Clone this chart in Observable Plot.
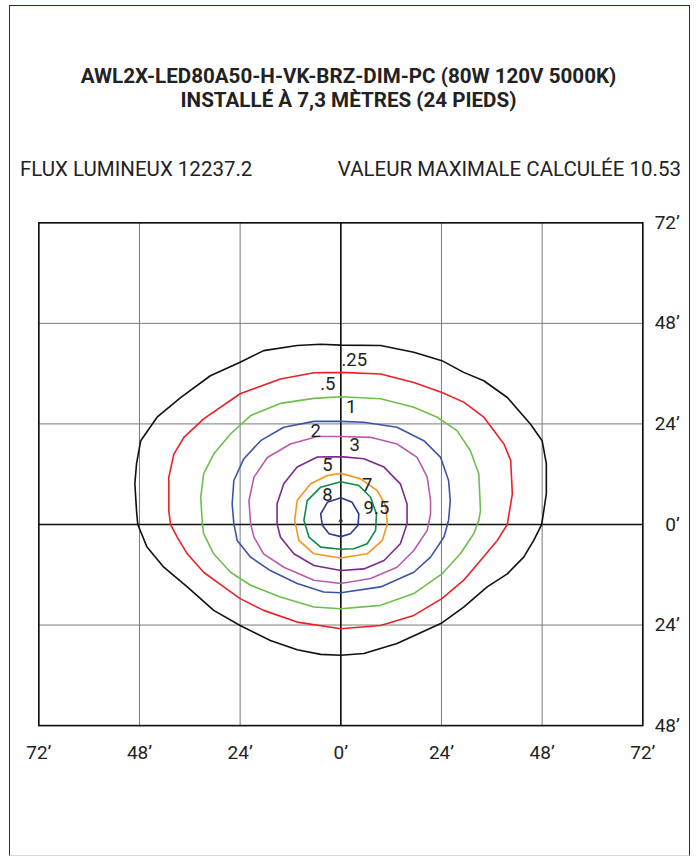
<!DOCTYPE html>
<html><head><meta charset="utf-8">
<script src="https://cdn.jsdelivr.net/npm/d3@7"></script>
<script src="https://cdn.jsdelivr.net/npm/@observablehq/plot@0.6"></script>
<style>
body{margin:0;background:#fff;font-family:Roboto,"Noto Sans",sans-serif;color:#222;}
#page{position:relative;width:697px;height:857px;overflow:hidden;background:#fff;}
#border{position:absolute;left:9px;top:5px;width:681px;height:851px;border:1.5px solid #1f2a5c;border-bottom-color:#d5d8e4;box-sizing:border-box;z-index:2;pointer-events:none;}
#title{position:absolute;left:0;width:697px;top:64px;text-align:center;font-weight:bold;font-size:20.6px;line-height:24px;}
.stat{position:absolute;top:157px;font-size:20.5px;line-height:24px;white-space:nowrap;}
#flux{left:20px;}
#vmax{right:16px;}
#chart{position:absolute;left:0;top:200px;}
#chart svg{background:none !important;}
</style></head>
<body><div id="page">
<div id="border"></div>
<div id="title">AWL2X-LED80A50-H-VK-BRZ-DIM-PC (80W 120V 5000K)<br>INSTALLÉ À 7,3 MÈTRES (24 PIEDS)</div>
<div class="stat" id="flux">FLUX LUMINEUX 12237.2</div>
<div class="stat" id="vmax">VALEUR MAXIMALE CALCULÉE 10.53</div>
<div id="chart"></div>
</div>
<script>
// Iso-footcandle contour levels
const levels = [".25", ".5", "1", "2", "3", "5", "7", "8", "9.5"];
// Contour outlines, feet [x, y]
const c025 = [[0,42.8],[-4.8,43.0],[-10.4,42.7],[-18.4,41.5],[-24,38.7],[-31.1,35.5],[-38.2,30.3],[-43.8,25.6],[-47.7,20],[-48.7,14.5],[-49.1,9.7],[-48.7,3.3],[-48.4,0],[-46.2,-5.4],[-42.2,-10.2],[-36.6,-14.9],[-30.3,-20.5],[-24,-24.1],[-16.8,-27.7],[-10.4,-29.9],[-4.8,-31],[0,-31.2],[5.5,-30.8],[13.4,-28.4],[24.1,-23.5],[29.3,-19.7],[34.9,-14.9],[39.7,-11.8],[43.6,-7.8],[46,-3.8],[47.9,0],[49,7.3],[49,14.5],[48,20],[45.2,24],[39.7,30.3],[34.1,34.3],[29.3,36.3],[24.1,39.1],[17.4,41.1],[9.5,42.7],[0,42.8]];
const c05 = [[0,36.3],[-6.4,36.2],[-14.4,34.7],[-24,31.2],[-32.7,25.2],[-37.4,20.8],[-39.8,16.8],[-41,11.3],[-41,3.3],[-40.6,0],[-39,-3],[-36.6,-7],[-32.7,-11.4],[-27.9,-14.9],[-24,-17.7],[-18.4,-20.5],[-10.4,-23.3],[0,-24.9],[9.5,-24.1],[17.4,-21.7],[24.1,-17.7],[29.3,-13.3],[33.3,-8.6],[37.3,-3.8],[39.7,0],[40.9,7.3],[40.5,15.3],[38.9,19.2],[34.1,25.6],[29.3,29.2],[24.1,31.5],[17.4,33.9],[9.5,35.9],[0,36.3]];
const c1 = [[0,30.5],[-6.4,30.1],[-14.4,28.9],[-21.5,26],[-26.3,21.6],[-30.3,16.8],[-32.7,12.1],[-33.4,6.5],[-33,0.2],[-32.7,-2.2],[-30.3,-7],[-26.3,-11.4],[-21.5,-14.5],[-14.4,-17.3],[-6.4,-19.7],[0,-20.1],[9.5,-19.3],[17.4,-16.5],[24.1,-11.8],[28.5,-7],[31.7,-2.2],[32.9,1],[33.3,3.3],[32.9,12.1],[30.9,17.6],[27.7,22.4],[23,25.6],[17.4,28],[9.5,30],[0,30.5]];
const c2 = [[0,24.6],[-6.4,24.6],[-13.6,23.2],[-19.1,20],[-23.1,15.7],[-25.5,10.5],[-25.9,4.9],[-25.5,0.2],[-24.7,-3.8],[-21.5,-7.8],[-16.8,-11],[-10.4,-14.1],[-4.1,-16.1],[0,-16.3],[9.5,-14.9],[17.4,-11.4],[21.4,-7.8],[24.6,-3],[25.7,1],[26.1,5.7],[25.7,10.5],[23.8,16],[19.8,20],[13.4,23.2],[5.5,24.4],[0,24.6]];
const c3 = [[0,21],[-5.6,21],[-12,19.2],[-17.5,16],[-20.7,11.3],[-21.9,5.7],[-21.5,0.2],[-20.7,-3],[-18.4,-7],[-13.6,-10.2],[-6.4,-13.3],[0,-14.1],[7.1,-12.9],[13.4,-10.2],[17.4,-6.2],[20.6,-1.4],[21.4,2.5],[21.4,5.7],[20.6,11.3],[18.2,16],[13.4,19.2],[7.1,20.8],[0,21]];
const c5 = [[0,16.2],[-5.6,16.1],[-10.4,13.7],[-13.6,9.7],[-15.2,4.9],[-15.2,0.2],[-14.4,-3],[-11.2,-7],[-6.4,-9.8],[0,-11],[5.5,-10.6],[10.3,-8.6],[14.2,-4.6],[15.8,0.2],[15.8,4.9],[14.2,9.7],[10.3,13.7],[5.5,15.7],[0,16.2]];
const c7 = [[0,12.2],[-3.2,11.7],[-7.2,9.7],[-10.4,5.7],[-11,1],[-10,-3.8],[-6.4,-7],[0,-8],[6.3,-7],[9.9,-3.8],[11.1,0.2],[10.7,4.5],[8.7,8.1],[4.7,10.9],[0,12.2]];
const c8 = [[0,10.2],[-4.8,8.9],[-8,5.7],[-8.8,1],[-7.6,-3],[-4.8,-5.4],[0,-5.9],[3.1,-5.8],[6.3,-4.6],[8.3,-1.4],[8.5,2.5],[7.1,6.5],[4.3,9.3],[0,10.2]];
const c95 = [[0,6.4],[-3.2,5.3],[-4.8,2.5],[-4.4,-0.2],[-2.8,-2.2],[0,-2.9],[2.3,-2.2],[4.1,-0.2],[4.3,2.5],[2.7,5.3],[0,6.4]];
// Contour label positions (feet)
const labelX = [3.2, -3.1, 2.5, -6, 3.3, -3.2, 6.3, -3.2, 8.5];
const labelY = [39.3, 33.5, 28, 22.3, 19, 14.2, 9.4, 7, 4.0];
// Axis ticks (feet)
const xTicks = [-72, -48, -24, 0, 24, 48, 72];
const yTicks = [-48, -24, 0, 24, 48, 72];

const outlines = [c025, c05, c1, c2, c3, c5, c7, c8, c95];
const rows = outlines.flatMap((pts, i) => pts.map(([x, y]) => ({level: levels[i], x, y})));
const labels = levels.map((t, i) => ({t, x: labelX[i], y: labelY[i]}));
const fmt = d => Math.abs(d) + "’";

const chart = Plot.plot({
  width: 697, height: 590,
  marginTop: 22.3, marginBottom: 64.9, marginLeft: 38.3, marginRight: 54.7,
  x: {domain: [-72, 72], axis: null},
  y: {domain: [-48, 72], axis: null},
  color: {type: "ordinal", domain: levels,
    range: ["#111111", "#ec2027", "#6cbf4b", "#3b55a5", "#b95bac", "#7b2b8c", "#f7941d", "#0d8c45", "#2b3990"]},
  style: {fontFamily: "Roboto, sans-serif", background: "none", color: "#222", overflow: "visible"},
  marks: [
    Plot.gridX(xTicks, {stroke: "#7a7a7a", strokeOpacity: 1, strokeWidth: 1}),
    Plot.gridY(yTicks, {stroke: "#7a7a7a", strokeOpacity: 1, strokeWidth: 1}),
    Plot.ruleX([0], {stroke: "#111", strokeWidth: 1.6}),
    Plot.ruleY([0], {stroke: "#111", strokeWidth: 1.6}),
    Plot.frame({stroke: "#111", strokeWidth: 1.6}),
    Plot.line(rows, {x: "x", y: "y", z: "level", stroke: "level", strokeWidth: 1.6, curve: "linear"}),
    Plot.dot([0], {x: 0, y: 1, symbol: "triangle", r: 1.8, fill: "#333", stroke: null}),
    Plot.text(labels, {x: "x", y: "y", text: "t", fontSize: 18.5, fill: "#222"}),
    Plot.text(xTicks, {x: d => d, y: -48, dy: 27, text: fmt, fontSize: 19, fill: "#222"}),
    Plot.text(yTicks, {x: 72, y: d => d, dx: 37, textAnchor: "end", text: fmt, fontSize: 19, fill: "#222"})
  ]
});
document.getElementById("chart").append(chart);
</script>
</body></html>
